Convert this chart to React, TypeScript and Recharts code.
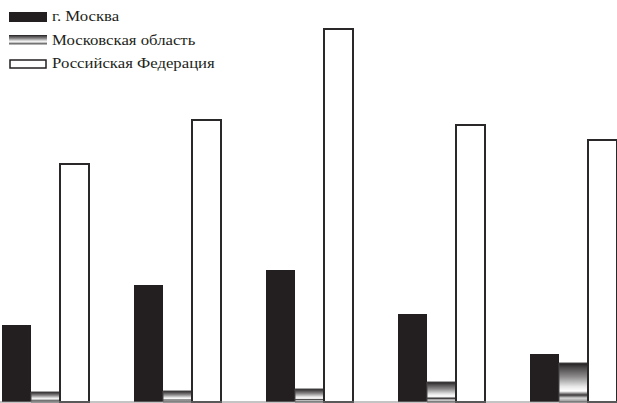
import { Bar, BarChart, ReferenceLine, XAxis, YAxis } from 'recharts';

const groups = ['I', 'II', 'III', 'IV', 'V'];
const moscow = [77, 117, 132, 88, 48];
const moscowRegion = [10, 11, 13, 20, 39];
const russia = [238, 282, 373, 277, 262];

const seriesNames = ['г. Москва', 'Московская область', 'Российская Федерация'];

const data = groups.map((g, i) => ({
  group: g,
  moscow: moscow[i],
  region: moscowRegion[i],
  russia: russia[i],
}));

// metallic stripe fill used for the oblast bars and its legend swatch
const StripeStops = () => (
  <>
    <stop offset='0%' stopColor='#1e1c1d' />
    <stop offset='12%' stopColor='#4a4849' />
    <stop offset='35%' stopColor='#8c8a8b' />
    <stop offset='60%' stopColor='#e6e6e6' />
    <stop offset='72%' stopColor='#ffffff' />
    <stop offset='82%' stopColor='#3a3839' />
    <stop offset='90%' stopColor='#d8d8d8' />
    <stop offset='100%' stopColor='#8a8a8a' />
  </>
);

function LegendBlock() {
  const swatch = (i: number) => {
    if (i === 0) return <rect x={0} y={0} width={38} height={10} fill='#231f20' />;
    if (i === 1) return <rect x={0} y={0} width={38} height={10} fill='url(#stripeLegend)' />;
    return (
      <rect x={1} y={1} width={36} height={8} fill='#fff' stroke='#231f20' strokeWidth={1.5} />
    );
  };
  return (
    <div
      style={{
        position: 'absolute',
        left: 9,
        top: 5,
        fontFamily: '"Liberation Serif", "Times New Roman", serif',
        fontSize: 15,
        color: '#231f20',
        lineHeight: '23.5px',
      }}
    >
      <svg width={0} height={0} style={{ position: 'absolute' }}>
        <defs>
          <linearGradient id='stripeLegend' x1='0' y1='0' x2='0' y2='1'>
            <StripeStops />
          </linearGradient>
        </defs>
      </svg>
      {seriesNames.map((name, i) => (
        <div key={name} style={{ display: 'flex', alignItems: 'center', height: 23.5 }}>
          <svg width={38} height={10} style={{ marginRight: 5, flexShrink: 0 }}>
            {swatch(i)}
          </svg>
          <span
            style={{
              whiteSpace: 'nowrap',
              display: 'inline-block',
              transform: 'scaleX(1.115)',
              transformOrigin: 'left center',
            }}
          >
            {name}
          </span>
        </div>
      ))}
    </div>
  );
}

export default function App() {
  return (
    <div
      style={{
        position: 'absolute',
        left: 0,
        top: 0,
        width: 617,
        height: 403,
        overflow: 'hidden',
        background: '#fff',
      }}
    >
      <div style={{ position: 'absolute', left: -20, top: 0 }}>
        <BarChart
          width={660}
          height={403}
          data={data}
          margin={{ top: 2, right: 0, bottom: 1, left: 0 }}
          barCategoryGap={22}
          barGap={0}
        >
          <defs>
            <linearGradient id='stripeBar' x1='0' y1='0' x2='0' y2='1'>
              <StripeStops />
            </linearGradient>
          </defs>
          <XAxis dataKey='group' hide />
          <YAxis hide domain={[0, 400]} />
          <Bar dataKey='moscow' fill='#231f20' isAnimationActive={false} />
          <Bar
            dataKey='region'
            fill='url(#stripeBar)'
            stroke='#4a4849'
            strokeWidth={1}
            isAnimationActive={false}
          />
          <Bar
            dataKey='russia'
            fill='#ffffff'
            stroke='#2a2829'
            strokeWidth={2}
            isAnimationActive={false}
          />
          <ReferenceLine y={0} stroke='#8a8a8a' strokeWidth={1} />
        </BarChart>
      </div>
      <LegendBlock />
    </div>
  );
}
